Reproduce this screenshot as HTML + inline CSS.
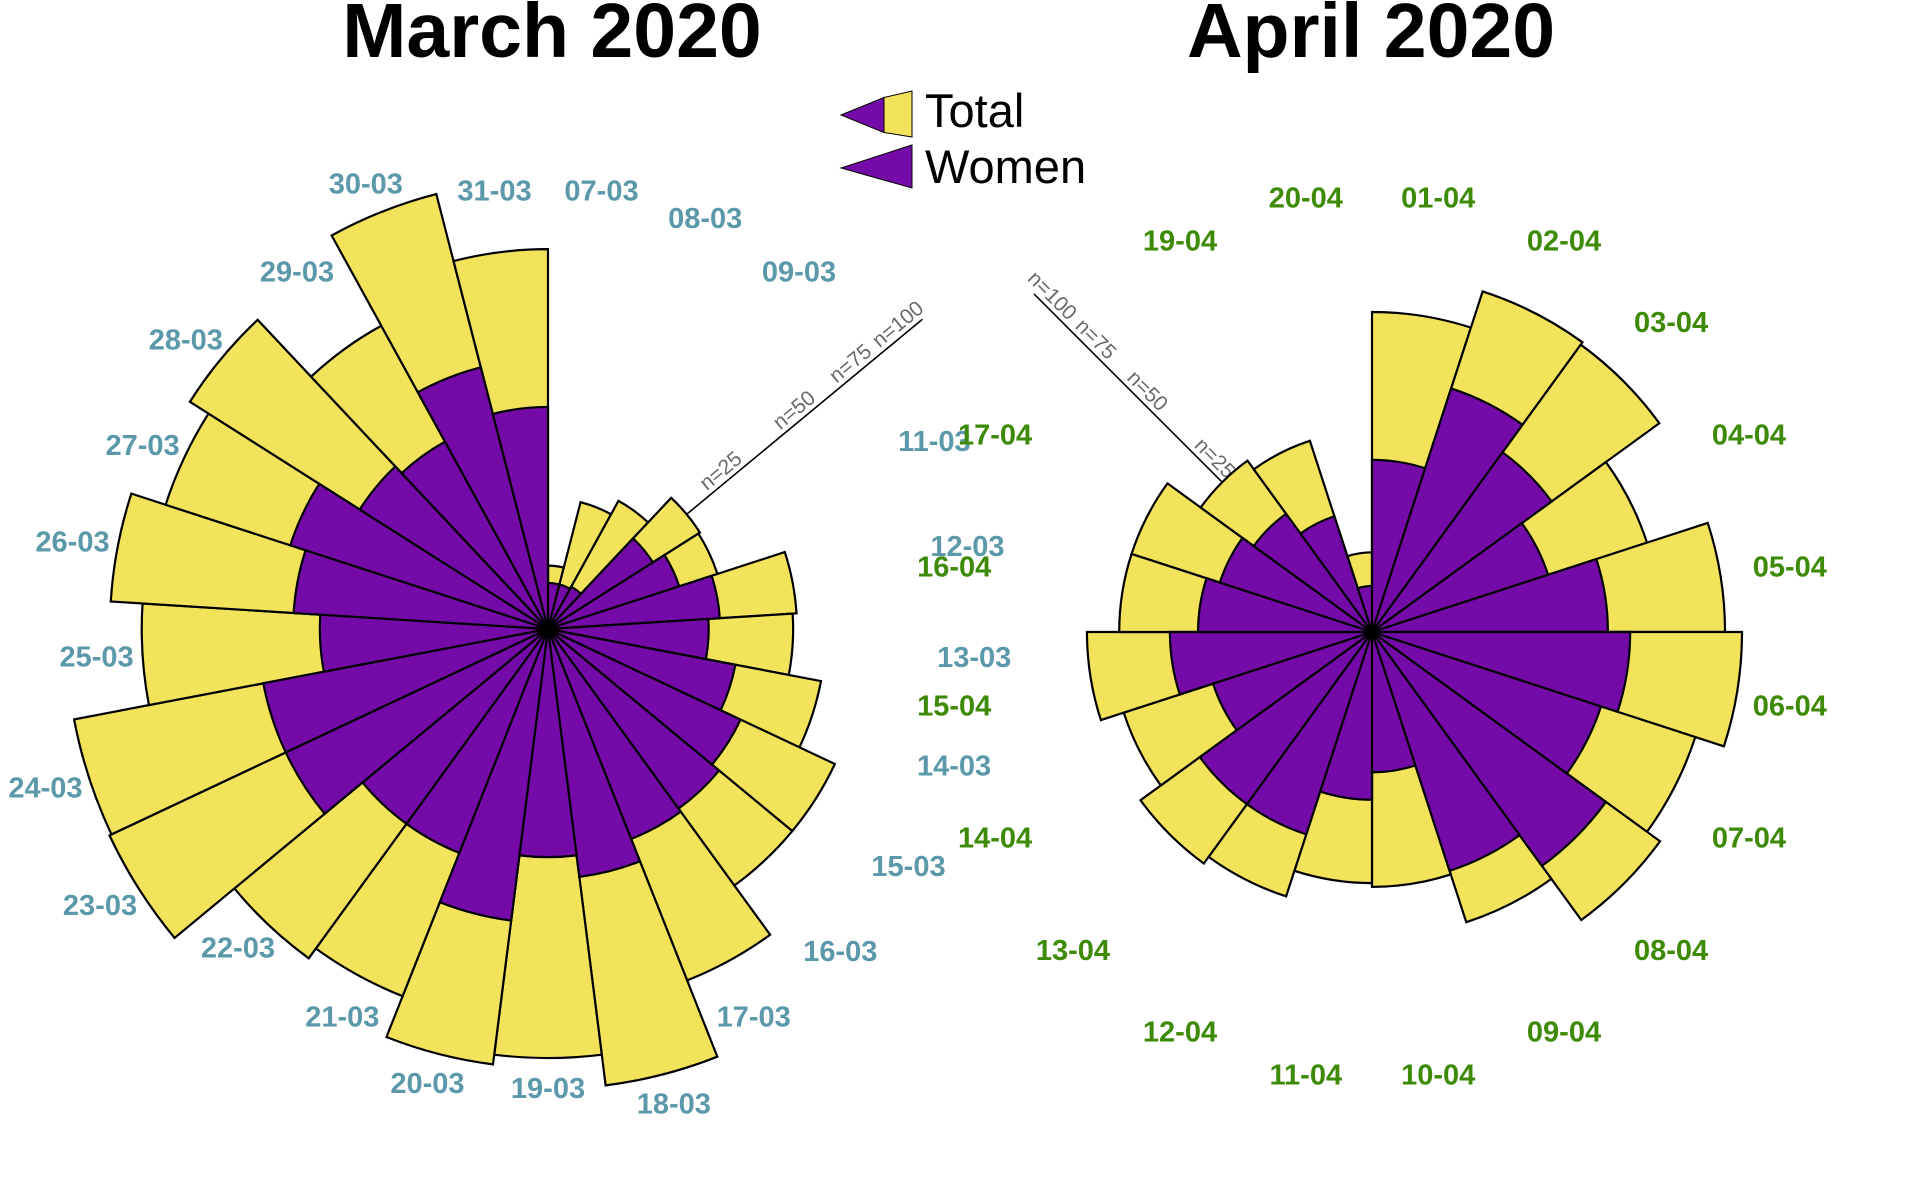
<!DOCTYPE html>
<html><head><meta charset="utf-8"><title>March / April 2020 rose charts</title>
<style>
html,body{margin:0;padding:0;background:#fff;}
svg{display:block;font-family:"Liberation Sans",Arial,sans-serif;}
</style></head>
<body>
<svg id="chart" xmlns="http://www.w3.org/2000/svg" width="1920" height="1181" viewBox="0 0 1920 1181">
  <rect x="0" y="0" width="1920" height="1181" fill="#ffffff"/>
  <text x="552" y="57" text-anchor="middle" font-size="77" font-weight="bold" fill="#000">March 2020</text>
  <text x="1371" y="57" text-anchor="middle" font-size="77" font-weight="bold" fill="#000">April 2020</text>
  <g>
    <g>
      <polygon points="841,115 884,97.5 884,132.5" fill="#740ba8" stroke="#000" stroke-width="1"/>
      <polygon points="884,97.5 912,91 912,137 884,132.5" fill="#f3e35b" stroke="#000" stroke-width="1"/>
      <text x="925" y="127" font-size="47" fill="#000">Total</text>
    </g>
    <g>
      <polygon points="841,168 912,145 912,188" fill="#740ba8" stroke="#000" stroke-width="1"/>
      <text x="925" y="183" font-size="47" fill="#000">Women</text>
    </g>
  </g>
</svg>
<script>
// ---- data ----
const marchDays = ['07-03','08-03','09-03','10-03','11-03','12-03','13-03','14-03','15-03','16-03','17-03','18-03','19-03','20-03','21-03','22-03','23-03','24-03','25-03','26-03','27-03','28-03','29-03','30-03','31-03'];
const marchTotal = [1.9, 8.1, 10.1, 15.3, 15.0, 29.3, 28.4, 36.5, 47.5, 47.5, 67.5, 100, 87, 91, 73.7, 78.3, 111, 110, 78, 90.7, 76.4, 85, 56.6, 95.3, 68.2];
const marchWomen = [1.0, 1.0, 1.1, 7.3, 9.0, 14.0, 12.2, 17.2, 21.4, 23.3, 24.1, 29.5, 24.6, 40.8, 27.4, 27.4, 39.7, 39.7, 24.6, 30.7, 34.7, 23.5, 21.6, 34.5, 23.3];
const aprilDays = ['01-04','02-04','03-04','04-04','05-04','06-04','07-04','08-04','09-04','10-04','11-04','12-04','13-04','14-04','15-04','16-04','17-04','18-04','19-04','20-04'];
const aprilTotal = [48.4, 60.6, 59.6, 39.5, 58.9, 64.7, 54.6, 59.9, 44.0, 30.7, 29.8, 36.5, 38.7, 32.2, 38.4, 30.2, 30.2, 21.2, 19.1, 3.0];
const aprilWomen = [14.0, 31.0, 23.3, 16.2, 26.3, 31.5, 27.4, 39.5, 29.8, 9.3, 13.3, 21.4, 21.4, 13.2, 19.3, 14.3, 12.1, 10.1, 7.0, 1.0];
const scaleTicks = [25, 50, 75, 100];
const scaleTickLabels = ['n=25', 'n=50', 'n=75', 'n=100'];

// ---- rendering ----
const NS = 'http://www.w3.org/2000/svg';
const svg = document.getElementById('chart');
const K = 46; // px per sqrt(n)
const YELLOW = '#f3e35b', PURPLE = '#740ba8';
function rScale(n){ return K * Math.sqrt(Math.max(0, n)); }
function pt(cx, cy, r, deg){ const a = deg * Math.PI / 180; return [cx + r * Math.sin(a), cy - r * Math.cos(a)]; }
function wedge(cx, cy, r, a0, a1){
  const p0 = pt(cx, cy, r, a0), p1 = pt(cx, cy, r, a1);
  return 'M' + cx + ',' + cy + ' L' + p0[0].toFixed(2) + ',' + p0[1].toFixed(2) +
    ' A' + r.toFixed(2) + ',' + r.toFixed(2) + ' 0 0 1 ' + p1[0].toFixed(2) + ',' + p1[1].toFixed(2) + ' Z';
}

function drawRose(cfg){
  const g = document.createElementNS(NS, 'g');
  
  
  svg.appendChild(g);
  const N = cfg.days.length, step = 360 / N;
  const scaleAngle = (cfg.scaleSlot + 0.5) * step;

  const lineEnd = pt(cfg.cx, cfg.cy, rScale(cfg.scaleMax), scaleAngle);
  const line = document.createElementNS(NS, 'line');
  
  
  line.setAttribute('x1', cfg.cx); line.setAttribute('y1', cfg.cy);
  line.setAttribute('x2', lineEnd[0]); line.setAttribute('y2', lineEnd[1]);
  line.setAttribute('stroke', '#000'); line.setAttribute('stroke-width', '1.6');
  g.appendChild(line);

  const rad = scaleAngle * Math.PI / 180;
  const ux = Math.sin(rad), uy = -Math.cos(rad);
  let rot = Math.atan2(uy, ux) * 180 / Math.PI;
  let px = uy, py = -ux;
  if (ux < 0) { rot += 180; px = -uy; py = ux; }
  for (let t = 0; t < scaleTicks.length; t++){
    const along = rScale(scaleTicks[t]) + 4;
    const x = cfg.cx + ux * along + px * 5;
    const y = cfg.cy + uy * along + py * 5;
    const tx = document.createElementNS(NS, 'text');
    
    
    tx.setAttribute('x', x.toFixed(1)); tx.setAttribute('y', y.toFixed(1));
    tx.setAttribute('text-anchor', 'middle');
    tx.setAttribute('font-size', '21');
    tx.setAttribute('fill', '#6a6a6a');
    tx.setAttribute('transform', 'rotate(' + rot.toFixed(2) + ' ' + x.toFixed(1) + ' ' + y.toFixed(1) + ')');
    tx.textContent = scaleTickLabels[t];
    g.appendChild(tx);
  }

  for (let i = 0; i < N; i++){
    const a0 = i * step, a1 = (i + 1) * step;
    const tot = document.createElementNS(NS, 'path');
    
    
    tot.setAttribute('d', wedge(cfg.cx, cfg.cy, rScale(cfg.total[i]), a0, a1));
    tot.setAttribute('fill', YELLOW); tot.setAttribute('stroke', '#000'); tot.setAttribute('stroke-width', '2.2');
    g.appendChild(tot);
  }
  for (let i = 0; i < N; i++){
    const a0 = i * step, a1 = (i + 1) * step;
    const wm = document.createElementNS(NS, 'path');
    
    
    wm.setAttribute('d', wedge(cfg.cx, cfg.cy, rScale(cfg.women[i]), a0, a1));
    wm.setAttribute('fill', PURPLE); wm.setAttribute('stroke', '#000'); wm.setAttribute('stroke-width', '2.2');
    g.appendChild(wm);
  }
  const hub = document.createElementNS(NS, 'circle');
  
  
  hub.setAttribute('cx', cfg.cx); hub.setAttribute('cy', cfg.cy); hub.setAttribute('r', '7');
  hub.setAttribute('fill', '#000');
  g.appendChild(hub);

  for (let i = 0; i < N; i++){
    if (i === cfg.scaleSlot) continue;
    const mid = (i + 0.5) * step, a = mid * Math.PI / 180;
    let x = cfg.lcx + cfg.lrx * Math.sin(a), y = cfg.lcy - cfg.lry * Math.cos(a);
    const dMin = Math.hypot(x - cfg.cx, y - cfg.cy);
    const rOut = rScale(cfg.total[i]) + 30;
    if (rOut > dMin){ const p = pt(cfg.cx, cfg.cy, rOut, mid); x = p[0] + 16 * Math.sin(a); y = p[1]; }
    const lb = document.createElementNS(NS, 'text');
    
    
    lb.setAttribute('x', x.toFixed(1)); lb.setAttribute('y', (y + 10).toFixed(1));
    lb.setAttribute('text-anchor', 'middle');
    lb.setAttribute('font-size', '29'); lb.setAttribute('font-weight', 'bold');
    lb.setAttribute('fill', cfg.labelColor);
    lb.textContent = cfg.days[i];
    g.appendChild(lb);
  }
}

drawRose({name:'march-rose', days:marchDays, total:marchTotal, women:marchWomen,
  cx:548, cy:629, scaleSlot:3, scaleMax:111.6,
  lcx:548, lcy:629, lrx:427, lry:442, labelColor:'#5b98aa'});
drawRose({name:'april-rose', days:aprilDays, total:aprilTotal, women:aprilWomen,
  cx:1372, cy:632, scaleSlot:17, scaleMax:108,
  lcx:1372, lcy:636, lrx:423, lry:444, labelColor:'#3c8a06'});
</script>
</body></html>
